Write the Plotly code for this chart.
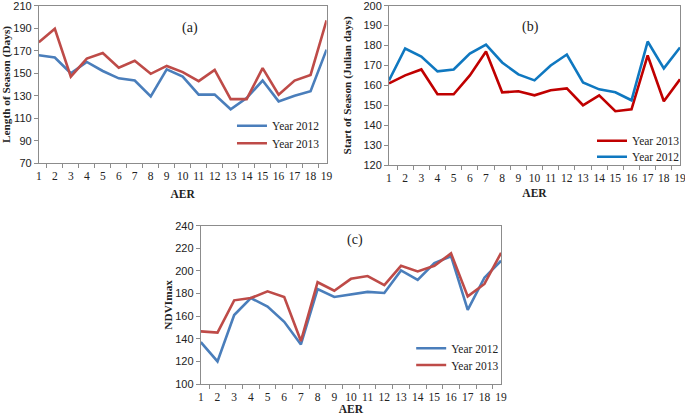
import plotly.graph_objects as go

aer = [str(i) for i in range(1, 20)]

# (a) Length of Season (Days)
los_2012 = [166, 164, 150, 160, 152, 145.5, 143.5, 129.5, 153.5, 147, 131, 131, 118, 128, 143.5, 125, 130, 134, 171]
los_2013 = [177.5, 189.5, 147, 163, 168, 155, 161, 149.5, 156.5, 151, 143, 153, 127, 127, 154.5, 131, 143.5, 148.5, 197]

# (b) Start of Season (Julian days)
sos_2012 = [162.5, 178.5, 174.5, 167, 168, 176, 180.5, 171.5, 165.5, 162.5, 170, 175.5, 161.5, 158, 156.5, 152.5, 182, 168.5, 179]
sos_2013 = [161, 165, 168, 155.5, 155.5, 165, 177, 156.5, 157, 155, 157.5, 158.5, 150, 155, 147, 148, 175, 152, 163]

# (c) NDVImax
ndvi_2012 = [137, 120, 161, 176, 168.5, 155, 135, 184, 177, 179.5, 181.5, 180.5, 200.5, 192, 207, 213, 165.5, 194, 209]
ndvi_2013 = [146.5, 145.5, 174, 176, 182, 177, 138, 190, 182.5, 193, 195.5, 187.5, 204.5, 199.5, 204.5, 215.5, 177.5, 188.5, 216]

BLUE_A = "#4a7ebb"
RED_A = "#be4b48"
BLUE_B = "#0f78c0"
RED_B = "#c00000"

W, H = 685, 418
MT = 4
def px(x):
    return x / W
def py(y):
    return 1 - (y - MT) / (H - MT)

fig = go.Figure()
lw = 2.6
fig.add_trace(go.Scatter(x=aer, y=los_2012, mode="lines", name="Year 2012", line=dict(color=BLUE_A, width=lw), xaxis="x", yaxis="y", legend="legend"))
fig.add_trace(go.Scatter(x=aer, y=los_2013, mode="lines", name="Year 2013", line=dict(color=RED_A, width=lw), xaxis="x", yaxis="y", legend="legend2"))
fig.add_trace(go.Scatter(x=aer, y=sos_2013, mode="lines", name="Year 2013", line=dict(color=RED_B, width=lw), xaxis="x2", yaxis="y2", legend="legend3"))
fig.add_trace(go.Scatter(x=aer, y=sos_2012, mode="lines", name="Year 2012", line=dict(color=BLUE_B, width=lw), xaxis="x2", yaxis="y2", legend="legend4"))
fig.add_trace(go.Scatter(x=aer, y=ndvi_2012, mode="lines", name="Year 2012", line=dict(color=BLUE_A, width=lw), xaxis="x3", yaxis="y3", legend="legend5"))
fig.add_trace(go.Scatter(x=aer, y=ndvi_2013, mode="lines", name="Year 2013", line=dict(color=RED_A, width=lw), xaxis="x3", yaxis="y3", legend="legend6"))

serif = "Liberation Serif, Times New Roman, serif"
sans = "Liberation Sans, Arial, sans-serif"
axcol = "#8c8c8c"
txt = "#222222"

def xax(domain, anchor, standoff):
    return dict(domain=domain, anchor=anchor, type="category", tickson="boundaries", tickangle=0,
                ticks="outside", ticklen=4, tickcolor=axcol, showline=True, linecolor=axcol,
                linewidth=1, mirror=True, showgrid=False, zeroline=False, ticklabelstandoff=2,
                ticklabeloverflow="allow",
                tickfont=dict(family=serif, size=11.5, color=txt),
                title=dict(text="<b>AER</b>", font=dict(family=serif, size=11.5, color=txt), standoff=standoff))

def yax(domain, anchor, rng, dt, title, standoff):
    return dict(domain=domain, anchor=anchor, range=rng, dtick=dt, tick0=rng[0],
                ticks="outside", ticklen=4, tickcolor=axcol, showline=True, linecolor=axcol,
                linewidth=1, mirror=True, showgrid=False, zeroline=False,
                ticklabeloverflow="allow",
                tickfont=dict(family=sans, size=11, color=txt),
                title=dict(text="<b>" + title + "</b>", font=dict(family=serif, size=11.3, color=txt), standoff=standoff))

def leg(xl, yc):
    return dict(x=px(xl - 40), y=py(yc), xanchor="left", yanchor="middle",
                font=dict(family=serif, size=11.5, color=txt), bgcolor="rgba(0,0,0,0)",
                itemwidth=30)

fig.update_layout(
    width=W, height=H, template="none", paper_bgcolor="white", plot_bgcolor="white",
    margin=dict(l=0, r=0, t=MT, b=0), showlegend=True,
    xaxis=xax([px(39), px(328)], "y", 8),
    yaxis=yax([py(163.3), py(5.7)], "x", [70, 210], 20, "Length of Season (Days)", 10),
    xaxis2=xax([px(390.7), px(683)], "y2", 6),
    yaxis2=yax([py(165), py(5.7)], "x2", [120, 200], 10, "Start of Season (Julian days)", 9),
    xaxis3=xax([px(201.7), px(503.3)], "y3", 1),
    yaxis3=yax([py(384), py(225.7)], "x3", [100, 240], 20, "NDVImax", 0),
    legend=leg(273, 125.7),
    legend2=leg(273, 143.3),
    legend3=leg(635, 140.7),
    legend4=leg(635, 156.7),
    legend5=leg(453, 348.3),
    legend6=leg(453, 365),
    annotations=[
        dict(text="(a)", x=px(181), y=py(18), xref="paper", yref="paper", showarrow=False, font=dict(family=serif, size=14, color=txt)),
        dict(text="(b)", x=px(543), y=py(17), xref="paper", yref="paper", showarrow=False, font=dict(family=serif, size=14, color=txt)),
        dict(text="(c)", x=px(357), y=py(240), xref="paper", yref="paper", showarrow=False, font=dict(family=serif, size=14, color=txt)),
    ],
)

fig.write_html("out.html", config={"displayModeBar": False},
               post_script="document.body.style.margin='0';document.body.style.overflow='hidden';")
